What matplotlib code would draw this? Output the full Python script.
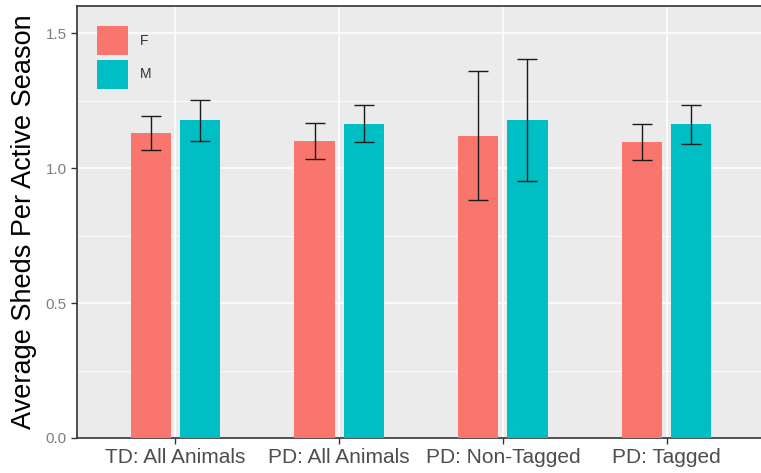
import numpy as np
import matplotlib.pyplot as plt
from matplotlib.patches import Patch
from matplotlib.ticker import MultipleLocator

plt.rcParams['font.family'] = ['Liberation Sans', 'DejaVu Sans']

groups = ['TD: All Animals', 'PD: All Animals', 'PD: Non-Tagged', 'PD: Tagged']
sexes = ['F', 'M']
mean_f = [1.130, 1.100, 1.120, 1.096]
mean_m = [1.178, 1.165, 1.180, 1.162]
err_f = [0.063, 0.067, 0.240, 0.066]
err_m = [0.076, 0.070, 0.226, 0.072]
colors = {'F': '#F8766D', 'M': '#00BFC4'}


def plot_sheds():
    fig = plt.figure(figsize=(7.61, 4.73), dpi=100)
    ax = fig.add_axes([0.1012, 0.074, 0.904, 0.913])
    ax.set_facecolor('#EBEBEB')

    x = np.arange(len(groups))
    offset = 0.15
    width = 0.245
    for sex, means, errs, sign in [('F', mean_f, err_f, -1), ('M', mean_m, err_m, 1)]:
        ax.bar(x + sign * offset, means, width=width, color=colors[sex], zorder=3)
        ax.errorbar(x + sign * offset, means, yerr=errs, fmt='none', ecolor='#1a1a1a',
                    elinewidth=1.0, capsize=7.5, capthick=1.0, zorder=4)

    ax.set_xlim(-0.6, 3.6)
    ax.set_ylim(0, 1.6)
    ax.yaxis.set_major_locator(MultipleLocator(0.5))
    ax.yaxis.set_minor_locator(MultipleLocator(0.25))
    ax.set_xticks(x)
    ax.set_xticklabels(groups, fontsize=15, color='#4D4D4D')
    ax.tick_params(axis='y', which='major', labelsize=11, labelcolor='#7F7F7F',
                   length=4, width=1, color='#333333')
    ax.tick_params(axis='y', which='minor', length=0)
    ax.tick_params(axis='x', length=4, width=1, color='#333333', pad=3)

    ax.grid(which='major', color='white', linewidth=1.1, zorder=0)
    ax.grid(which='minor', axis='y', color='white', linewidth=0.55, zorder=0)
    ax.set_axisbelow(True)
    for side in ['left', 'bottom', 'top', 'right']:
        ax.spines[side].set_color('#333333')
        ax.spines[side].set_linewidth(1.2)

    ax.set_ylabel('Average Sheds Per Active Season', fontsize=19.5, color='black', labelpad=6)

    handles = [Patch(facecolor=colors[s], edgecolor='none') for s in sexes]
    leg = ax.legend(handles, sexes, loc='upper left',
                    frameon=False, fontsize=10, handlelength=2.25, handleheight=2.85,
                    labelspacing=0.3, handletextpad=0.85, borderaxespad=1.05)
    for t in leg.get_texts():
        t.set_color('#333333')

    fig.savefig('out.png', dpi=100)
    plt.close(fig)


if __name__ == '__main__':
    plot_sheds()
